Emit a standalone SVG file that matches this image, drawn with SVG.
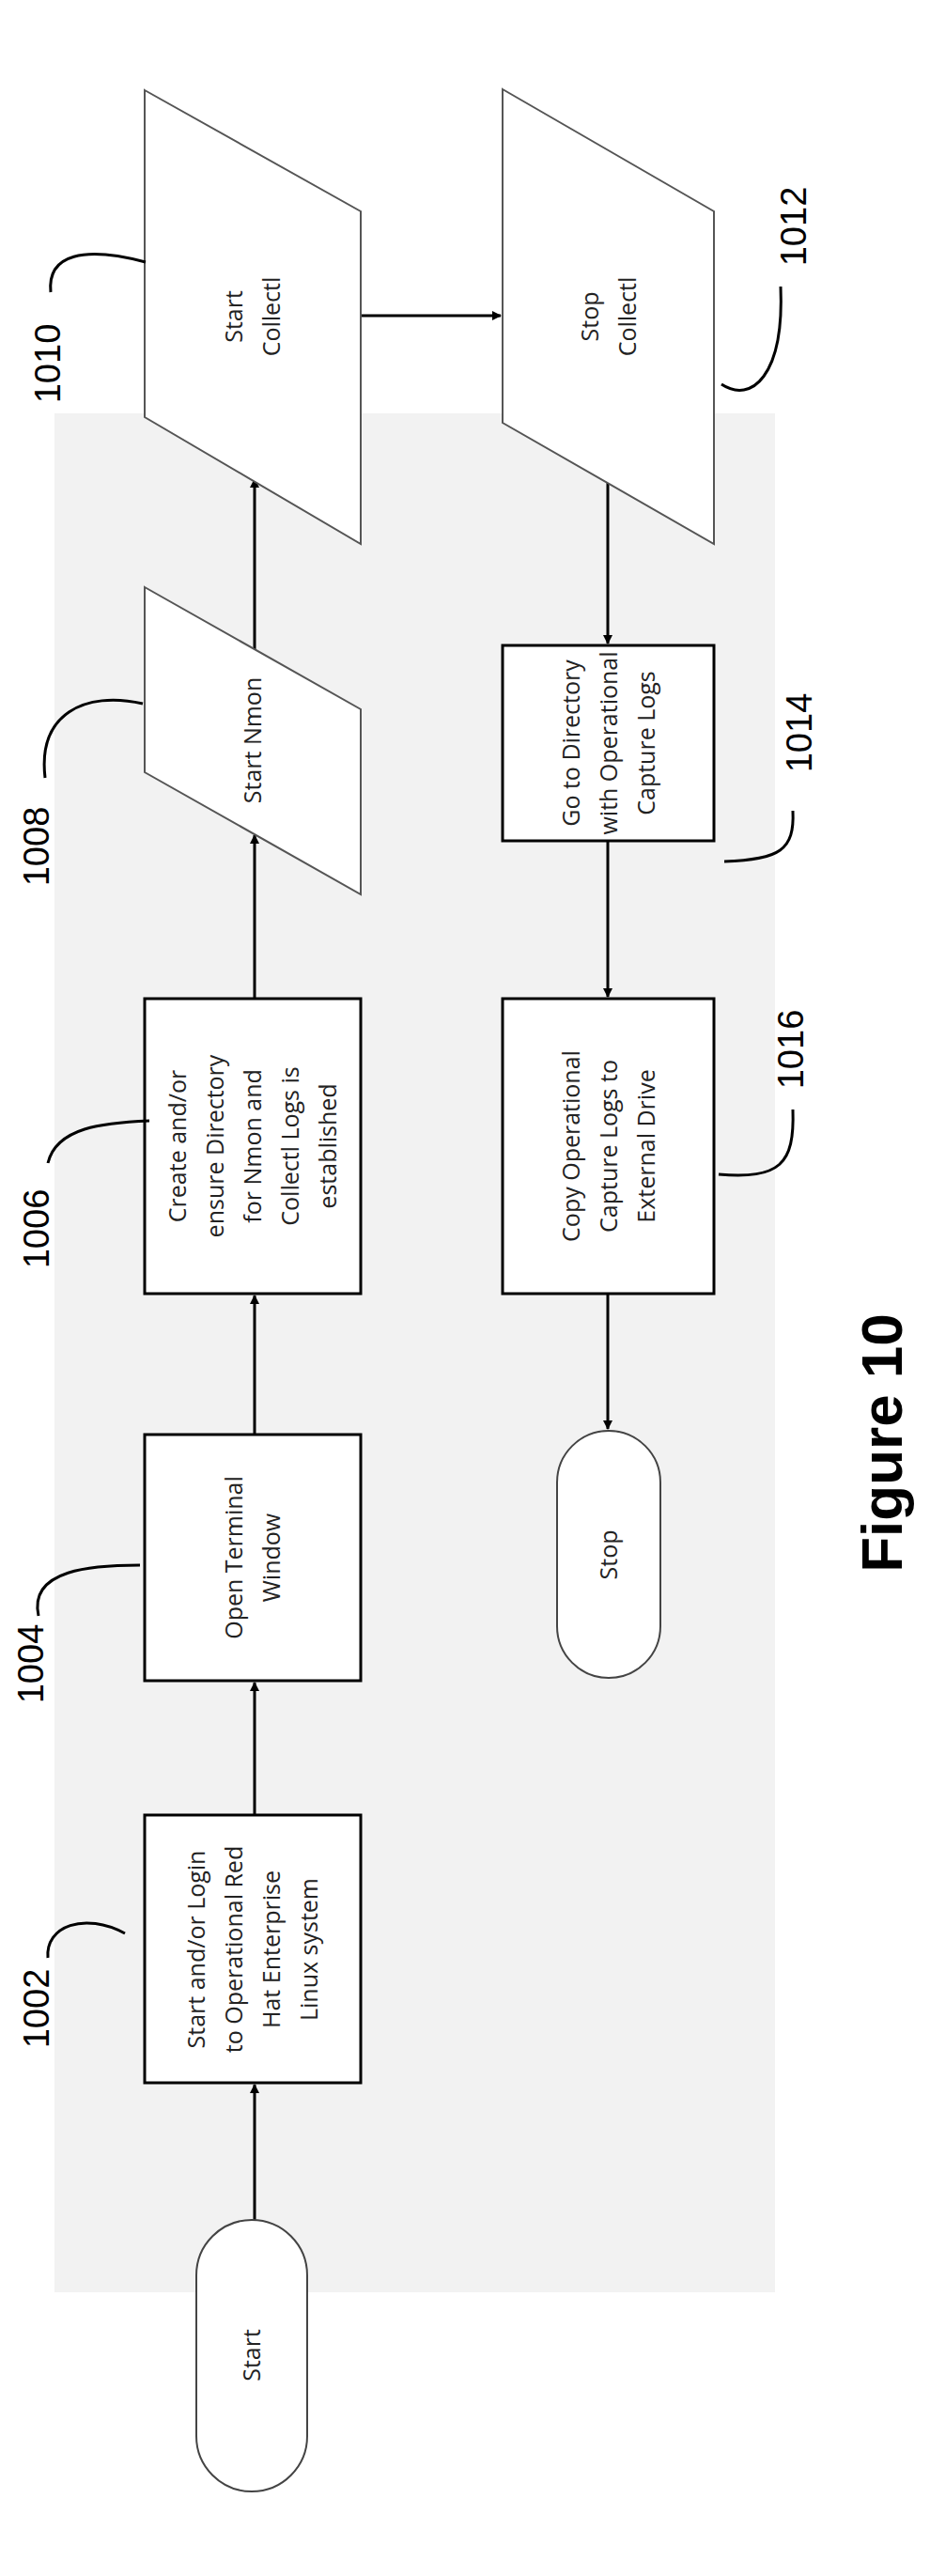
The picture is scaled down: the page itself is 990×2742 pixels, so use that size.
<svg xmlns="http://www.w3.org/2000/svg" width="990" height="2742" viewBox="0 0 990 2742">
<style>
.bg{fill:#f2f2f2}
.box{fill:#fff;stroke:#000;stroke-width:3}
.par{fill:#fff;stroke:#555;stroke-width:2}
.term{fill:#fff;stroke:#444;stroke-width:2}
.t{font-family:"Open Sans","Liberation Sans",sans-serif;font-size:25px;fill:#222;text-anchor:middle}
.ref{font-family:"Liberation Sans",Arial,sans-serif;font-size:38px;fill:#000;text-anchor:middle}
.lead{fill:none;stroke:#000;stroke-width:3}
.c{stroke:#000;stroke-width:3;fill:none;marker-end:url(#ah)}
</style>
<defs>
<marker id="ah" markerWidth="10" markerHeight="10" refX="9" refY="5" orient="auto" markerUnits="userSpaceOnUse" viewBox="0 0 10 10"><path d="M0,0L10,5L0,10z" fill="#000"/></marker>
</defs>
<rect width="990" height="2742" fill="#fff"/>
<rect class="bg" x="58" y="440" width="767" height="2000"/>
<g id="connectors">
<line class="c" x1="271" y1="2363" x2="271" y2="2219"/>
<line class="c" x1="271" y1="1932" x2="271" y2="1791"/>
<line class="c" x1="271" y1="1527" x2="271" y2="1379"/>
<line class="c" x1="271" y1="1063" x2="271" y2="889"/>
<line class="c" x1="271" y1="691" x2="271" y2="510"/>
<line class="c" x1="384" y1="336" x2="533" y2="336"/>
<line class="c" x1="647" y1="514" x2="647" y2="685"/>
<line class="c" x1="647" y1="895" x2="647" y2="1061"/>
<line class="c" x1="647" y1="1377" x2="647" y2="1521"/>
</g>
<g id="start"><rect class="term" x="209" y="2363" width="118" height="289" rx="59"/>
<text class="t" transform="translate(268,2507) rotate(-90)" dy="9">Start</text></g>
<g id="n1002"><rect class="box" x="154" y="1932" width="230" height="285"/>
<text class="t" transform="translate(269,2075) rotate(-90)"><tspan x="0" dy="-51">Start and/or Login</tspan><tspan x="0" dy="40">to Operational Red</tspan><tspan x="0" dy="40">Hat Enterprise</tspan><tspan x="0" dy="40">Linux system</tspan></text>
<path class="lead" d="M51,2084 C48,2050 90,2035 133,2058" fill="none"/><text class="ref" transform="translate(52,2138) rotate(-90)">1002</text></g>
<g id="n1004"><rect class="box" x="154" y="1527" width="230" height="262"/>
<text class="t" transform="translate(269,1658) rotate(-90)"><tspan x="0" dy="-11">Open Terminal</tspan><tspan x="0" dy="40">Window</tspan></text>
<path class="lead" d="M41,1720 C30,1670 100,1666 149,1666"/><text class="ref" transform="translate(46,1771) rotate(-90)">1004</text></g>
<g id="n1006"><rect class="box" x="154" y="1063" width="230" height="314"/>
<text class="t" transform="translate(269,1220) rotate(-90)"><tspan x="0" dy="-71">Create and/or</tspan><tspan x="0" dy="40">ensure Directory</tspan><tspan x="0" dy="40">for Nmon and</tspan><tspan x="0" dy="40">Collectl Logs is</tspan><tspan x="0" dy="40">established</tspan></text>
<path class="lead" d="M51,1238 C60,1200 110,1195 159,1193"/><text class="ref" transform="translate(52,1308) rotate(-90)">1006</text></g>
<g id="n1008"><polygon class="par" points="154,625 384,755 384,952 154,822"/>
<text class="t" transform="translate(269,788) rotate(-90)" dy="9">Start Nmon</text>
<path class="lead" d="M48,828 C40,760 90,735 152,749"/><text class="ref" transform="translate(52,901) rotate(-90)">1008</text></g>
<g id="n1010"><polygon class="par" points="154,96 384,225 384,579 154,444"/>
<text class="t" transform="translate(269,337) rotate(-90)"><tspan x="0" dy="-11">Start</tspan><tspan x="0" dy="40">Collectl</tspan></text>
<path class="lead" d="M54,311 C50,270 90,262 155,279"/><text class="ref" transform="translate(64,387) rotate(-90)">1010</text></g>
<g id="n1012"><polygon class="par" points="535,95 760,225 760,579 535,450"/>
<text class="t" transform="translate(648,337) rotate(-90)"><tspan x="0" dy="-11">Stop</tspan><tspan x="0" dy="40">Collectl</tspan></text>
<path class="lead" d="M768,409 C800,430 835,400 831,305"/><text class="ref" transform="translate(858,241) rotate(-90)">1012</text></g>
<g id="n1014"><rect class="box" x="535" y="687" width="225" height="208"/>
<text class="t" transform="translate(648,791) rotate(-90)"><tspan x="0" dy="-31">Go to Directory</tspan><tspan x="0" dy="40">with Operational</tspan><tspan x="0" dy="40">Capture Logs</tspan></text>
<path class="lead" d="M771,917 C830,915 846,905 844,863"/><text class="ref" transform="translate(864,780) rotate(-90)">1014</text></g>
<g id="n1016"><rect class="box" x="535" y="1063" width="225" height="314"/>
<text class="t" transform="translate(648,1220) rotate(-90)"><tspan x="0" dy="-31">Copy Operational</tspan><tspan x="0" dy="40">Capture Logs to</tspan><tspan x="0" dy="40">External Drive</tspan></text>
<path class="lead" d="M765,1250 C830,1255 846,1240 844,1181"/><text class="ref" transform="translate(855,1117) rotate(-90)">1016</text></g>
<g id="stop"><rect class="term" x="593" y="1523" width="110" height="263" rx="55"/>
<text class="t" transform="translate(648,1655) rotate(-90)" dy="9">Stop</text></g>
<text transform="translate(960,1536) rotate(-90)" font-family="Liberation Sans,Arial,sans-serif" font-weight="bold" font-size="62" text-anchor="middle">Figure 10</text>
</svg>
